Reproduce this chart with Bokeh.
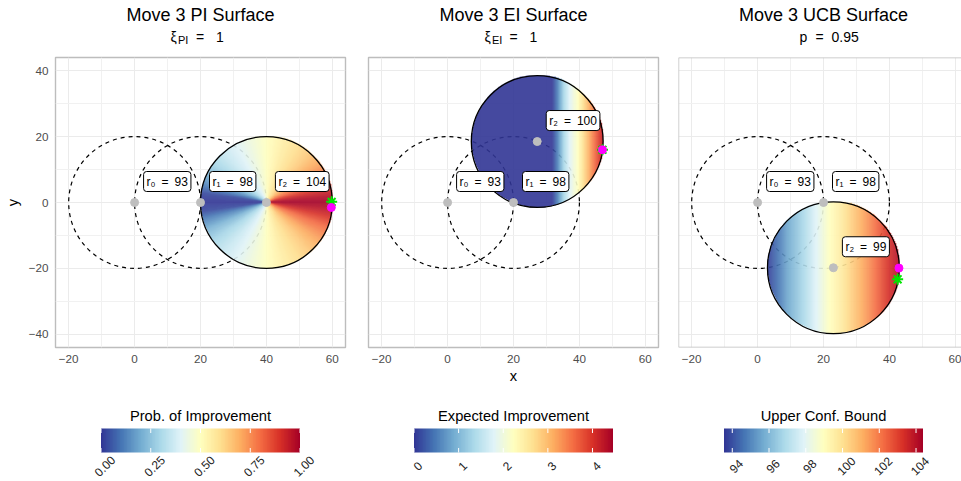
import numpy as np
from bokeh.plotting import figure
from bokeh.layouts import column, row
from bokeh.models import Range1d, FixedTicker, LinearColorMapper, LabelSet, ColumnDataSource, Span
from bokeh.core.properties import value
from bokeh.embed import file_html
from bokeh.resources import INLINE

FONT = "Liberation Sans"

# ---------------- data ----------------
panel_titles = ["Move 3 PI Surface", "Move 3 EI Surface", "Move 3 UCB Surface"]
sub_symbol = ["ξ", "ξ", "p"]
sub_index = ["PI", "EI", ""]
sub_value = ["1", "1", "0.95"]
legend_titles = ["Prob. of Improvement", "Expected Improvement", "Upper Conf. Bound"]

radius = 20.0
# r0, r1, r2 positions per panel
r_x = [[0, 20, 40], [0, 20, 27.2], [0, 20, 23.0]]
r_y = [[0, 0, 0], [0, 0, 18.5], [0, 0, -19.8]]
r_vals = [[93, 98, 104], [93, 98, 100], [93, 98, 99]]

best_x = [59.7, 47.0, 42.9]
best_y = [-1.5, 16.0, -19.9]
star_x = [59.8, 47.0, 42.5]
star_y = [0.2, 16.0, -23.3]

# surface profiles
pi_angle = [-180, -172, -165, -155, -145, -130, -110, -90, -70, -50, -35, -22, -12, -5, 0,
            5, 12, 22, 35, 50, 70, 90, 110, 130, 145, 155, 165, 172, 180]
pi_value = [0.0, 0.03, 0.12, 0.22, 0.29, 0.36, 0.43, 0.50, 0.57, 0.64, 0.72, 0.81, 0.91, 0.97, 1.0,
            0.97, 0.91, 0.81, 0.72, 0.64, 0.57, 0.50, 0.43, 0.36, 0.29, 0.22, 0.12, 0.03, 0.0]
ei_x = [7.0, 31.5, 33.0, 35.0, 36.8, 39.4, 41.0, 42.7, 44.3, 46.0, 47.5]
ei_value = [0.0, 0.0, 0.45, 1.3, 1.8, 2.23, 2.68, 3.12, 3.57, 4.0, 4.4]
ucb_x = [2.0, 3.0, 6.0, 9.0, 13.0, 17.0, 21.0, 25.0, 30.0, 35.0, 39.0, 44.0]
ucb_value = [93.55, 93.7, 94.6, 95.6, 96.6, 97.7, 98.8, 99.6, 100.8, 102.0, 103.2, 104.35]

legend_low = [0.0, 0.0, 93.55]
legend_high = [1.0, 4.46, 104.38]
legend_ticks = [[0, 0.25, 0.5, 0.75, 1.0], [0, 1, 2, 3, 4], [94, 96, 98, 100, 102, 104]]
legend_labels = [["0.00", "0.25", "0.50", "0.75", "1.00"], ["0", "1", "2", "3", "4"],
                 ["94", "96", "98", "100", "102", "104"]]

x_ticks = [-20, 0, 20, 40, 60]
x_minor = [-10, 10, 30, 50]
y_ticks = [-40, -20, 0, 20, 40]
y_minor = [-30, -10, 10, 30]
tick_overrides = {-20: "\u221220", -40: "\u221240"}

rdylbu = ["#313695", "#4575b4", "#74add1", "#abd9e9", "#e0f3f8", "#ffffbf",
          "#fee090", "#fdae61", "#f46d43", "#d73027", "#a50026"]


def interp_palette(cols, n=256):
    rgb = np.array([[int(c[i:i + 2], 16) for i in (1, 3, 5)] for c in cols], float)
    pos = np.linspace(0, 1, len(cols))
    out = []
    for t in np.linspace(0, 1, n):
        r, g, b = (np.interp(t, pos, rgb[:, k]) for k in range(3))
        out.append("#%02x%02x%02x" % (int(round(r)), int(round(g)), int(round(b))))
    return out


PAL = interp_palette(rdylbu)

# ---------------- layout constants ----------------
FRAME = 290
HDR_H = 50
PAN_H = 337
CB_H = 94
col_w = [358, 310, 293]
col_left_border = [55, 10, 10]
col_right_border = [13, 10, 0]
frame_left_abs = [55, 368, 678]
centers = [fl + FRAME / 2 for fl in frame_left_abs]
scale = FRAME / 88.0
BORDER = "#BDBDBD"


def surface(k, n=400):
    cx, cy = r_x[k][2], r_y[k][2]
    g = (np.arange(n) + 0.5) / n * 2 * radius
    X, Y = np.meshgrid(cx - radius + g, cy - radius + g)
    dx, dy = X - cx, Y - cy
    if k == 0:
        vals = np.interp(np.degrees(np.arctan2(dy, dx)), pi_angle, pi_value)
    elif k == 1:
        vals = np.interp(X, ei_x, ei_value)
    else:
        vals = np.interp(X, ucb_x, ucb_value)
    vals = np.where(dx ** 2 + dy ** 2 <= radius ** 2, vals, np.nan)
    return vals


def panel(k):
    xmax = -24 + (col_w[k] - col_left_border[k] - col_right_border[k]) / scale
    p = figure(width=col_w[k], height=PAN_H, x_range=Range1d(-24, xmax), y_range=Range1d(-44, 44),
               min_border_left=col_left_border[k], min_border_right=col_right_border[k],
               min_border_top=7, min_border_bottom=40, title=None,
               output_backend="svg", toolbar_location=None)
    p.background_fill_color = "white"
    if k < 2:
        p.outline_line_color = BORDER
        p.outline_line_width = 1.4
    else:
        # right edge of the last panel lies outside the window
        p.outline_line_color = None
        p.add_layout(Span(location=-24, dimension="height", line_color=BORDER, line_width=1.4))
        p.add_layout(Span(location=44, dimension="width", line_color=BORDER, line_width=1.4))
        p.add_layout(Span(location=-44, dimension="width", line_color=BORDER, line_width=1.4))
    xt = FixedTicker(ticks=x_ticks, minor_ticks=x_minor)
    yt = FixedTicker(ticks=y_ticks, minor_ticks=y_minor)
    p.xaxis.ticker = xt
    p.yaxis.ticker = yt
    p.xgrid.ticker = xt
    p.ygrid.ticker = yt
    p.grid.grid_line_color = "#EBEBEB"
    p.grid.grid_line_width = 1
    p.grid.minor_grid_line_color = "#F1F1F1"
    p.grid.minor_grid_line_width = 1
    for ax in p.axis:
        ax.axis_line_color = None
        ax.major_tick_line_color = None
        ax.minor_tick_line_color = None
        ax.major_tick_in = 0
        ax.major_tick_out = 3
        ax.major_label_standoff = 3
        ax.major_label_text_font = FONT
        ax.major_label_text_font_size = "11.7px"
        ax.major_label_text_color = "#4D4D4D"
        ax.major_label_overrides = tick_overrides
        ax.axis_label_text_font = FONT
        ax.axis_label_text_font_size = "14.7px"
        ax.axis_label_text_font_style = "normal"
        ax.axis_label_text_color = "black"
    if k == 0:
        p.yaxis.axis_label = "y"
        p.yaxis.axis_label_standoff = 5
    else:
        p.yaxis.visible = False
    if k == 1:
        p.xaxis.axis_label = "x"
        p.xaxis.axis_label_standoff = 2

    # previous trust circles (dashed)
    p.circle(x=r_x[k][:2], y=r_y[k][:2], radius=radius, fill_color=None,
             line_color="black", line_dash="4 4", line_width=1.2)
    # acquisition surface
    mapper = LinearColorMapper(palette=PAL, low=legend_low[k], high=legend_high[k],
                               nan_color=(0, 0, 0, 0))
    cx, cy = r_x[k][2], r_y[k][2]
    p.image(image=[surface(k)], x=cx - radius, y=cy - radius, dw=2 * radius, dh=2 * radius,
            color_mapper=mapper, global_alpha=0.9)
    p.circle(x=[cx], y=[cy], radius=radius, fill_color=None, line_color="black", line_width=1.3)
    # centres
    p.scatter(x=r_x[k], y=r_y[k], size=8, fill_color="#BEBEBE", line_color="#BEBEBE")
    subs = ["\u2080", "\u2081", "\u2082"]
    labels = ["r%s\u2002=\u2002%d" % (subs[i], r_vals[k][i]) for i in range(3)]
    p.text(x=r_x[k], y=r_y[k], text=labels, x_offset=9, y_offset=-11,
           text_align="left", text_baseline="bottom", text_font=value(FONT),
           text_font_size=value("12px"), text_color="black",
           background_fill_color="white", border_line_color="black", border_line_width=1,
           padding=3, border_radius=3)
    p.scatter(x=[star_x[k]], y=[star_y[k]], marker="asterisk", size=11,
              line_color="#00E600", line_width=2)
    p.scatter(x=[best_x[k]], y=[best_y[k]], marker="circle", size=8,
              fill_color="#FF00FF", line_color="#FF00FF")
    return p


def colorbar(k):
    bar_w = 199.0
    bar_left = centers[k] - bar_w / 2 - sum(col_w[:k])
    lo, hi = legend_low[k], legend_high[k]
    s = bar_w / (hi - lo)
    x0 = lo - bar_left / s
    x1 = x0 + col_w[k] / s
    f = figure(width=col_w[k], height=CB_H, x_range=Range1d(x0, x1), y_range=Range1d(0, CB_H),
               min_border=0, x_axis_location=None, y_axis_location=None, title=None,
               output_backend="svg", toolbar_location=None)
    f.outline_line_color = None
    f.grid.grid_line_color = None
    mapper = LinearColorMapper(palette=PAL, low=lo, high=hi)
    f.image(image=[np.linspace(lo, hi, 256)[None, :]], x=lo, y=29, dw=hi - lo, dh=24,
            color_mapper=mapper)
    t = legend_ticks[k]
    f.segment(x0=t, y0=[53] * len(t), x1=t, y1=[48.5] * len(t), line_color="white", line_width=1)
    f.segment(x0=t, y0=[29] * len(t), x1=t, y1=[33.5] * len(t), line_color="white", line_width=1)
    src = ColumnDataSource(dict(x=t, y=[15.5] * len(t), text=legend_labels[k]))
    f.add_layout(LabelSet(x="x", y="y", text="text", source=src, angle=np.pi / 4, x_offset=3.7,
                          text_align="center", text_baseline="middle", text_font=value(FONT),
                          text_font_size=value("12px"), text_color="#222222"))
    f.text(x=[(lo + hi) / 2], y=[66], text=[legend_titles[k]], text_align="center",
           text_baseline="alphabetic", text_font=value(FONT), text_font_size=value("14.7px"),
           text_color="black")
    return f


hdr = figure(width=961, height=HDR_H, x_range=Range1d(0, 961), y_range=Range1d(0, HDR_H),
             min_border=0, x_axis_location=None, y_axis_location=None, title=None,
             output_backend="svg", toolbar_location=None)
hdr.outline_line_color = None
hdr.grid.grid_line_color = None
hdr.text(x=centers, y=[35.5] * 3, text=panel_titles, text_align="center",
         text_baseline="alphabetic", text_font=value(FONT), text_font_size=value("18px"),
         text_color="black")
sym_off = [-30, -29, -24]
idx_off = [-22.5, -21.5, 0]
eq_off = [-4.5, -4, -8]
val_off = [15.5, 16, 8]
hdr.text(x=[c + o for c, o in zip(centers, sym_off)], y=[13.5] * 3, text=sub_symbol,
         text_align="left", text_baseline="alphabetic", text_font=value(FONT),
         text_font_size=value("14px"), text_color="black")
hdr.text(x=[c + o for c, o in zip(centers[:2], idx_off[:2])], y=[11.0] * 2, text=sub_index[:2],
         text_align="left", text_baseline="alphabetic", text_font=value(FONT),
         text_font_size=value("11px"), text_color="black")
hdr.text(x=[c + o for c, o in zip(centers, eq_off)], y=[13.5] * 3, text=["="] * 3,
         text_align="left", text_baseline="alphabetic", text_font=value(FONT),
         text_font_size=value("14px"), text_color="black")
hdr.text(x=[c + o for c, o in zip(centers, val_off)], y=[13.5] * 3, text=sub_value,
         text_align="left", text_baseline="alphabetic", text_font=value(FONT),
         text_font_size=value("14px"), text_color="black")

layout = column(hdr, row(*[panel(k) for k in range(3)]), row(*[colorbar(k) for k in range(3)]))

open("out.html", "w").write(file_html(layout, INLINE))
